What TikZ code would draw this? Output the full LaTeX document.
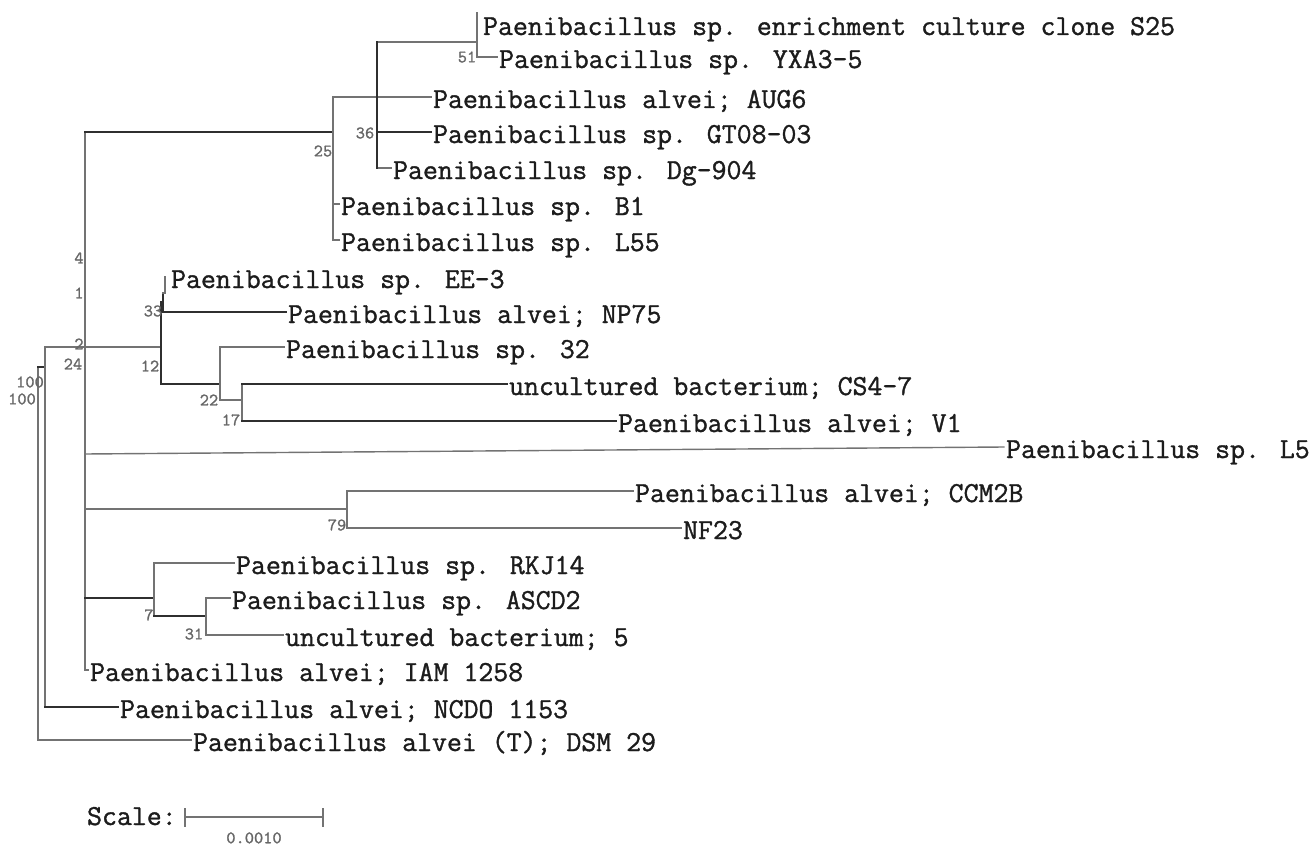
\documentclass[tikz,border=0pt]{standalone}
\usepackage{fontspec}
\usetikzlibrary{positioning}
\newfontfamily\treefont{Latin Modern Mono}[FakeBold=1.2]
\definecolor{branchlight}{HTML}{737373}
\definecolor{branchdark}{HTML}{2F2F2F}
\definecolor{taxonink}{HTML}{1C1C1C}
\definecolor{bootink}{HTML}{666666}
\tikzset{
	treestyle/.style={
		x=0.2mm,
		y=-0.2mm,
		line cap=rect,
		font=\treefont}}

\begin{document}
\begin{tikzpicture}[treestyle,
	taxon/.style={anchor=west, inner xsep=1pt, inner ysep=0pt, text height=4.4mm, text depth=0pt,
		text=taxonink, font=\treefont\fontsize{16.5}{18}\selectfont},
	boot/.style={inner sep=0pt, text=bootink, font=\treefont\fontsize{10}{11}\selectfont},
	thinbr/.style={draw=branchlight, line width=0.8pt},
	thickbr/.style={draw=branchdark, line width=1.4pt},
	]

	\useasboundingbox (0,0) rectangle (1312,847);

	\node[taxon] (s25) at (481,24) {Paenibacillus sp. enrichment culture clone S25};
	\node[taxon] (yxa) at (497,57) {Paenibacillus sp. YXA3-5};
	\node[taxon] (aug) at (431,97) {Paenibacillus alvei; AUG6};
	\node[taxon] (gt) at (431,132) {Paenibacillus sp. GT08-03};
	\node[taxon] (dg) at (391,168) {Paenibacillus sp. Dg-904};
	\node[taxon] (b1) at (339,204) {Paenibacillus sp. B1};
	\node[taxon] (l55) at (339,240) {Paenibacillus sp. L55};
	\node[taxon] (ee3) at (169,277) {Paenibacillus sp. EE-3};
	\node[taxon] (np75) at (286,312) {Paenibacillus alvei; NP75};
	\node[taxon] (sp32) at (284,347) {Paenibacillus sp. 32};
	\node[taxon] (cs47) at (507,384) {uncultured bacterium; CS4-7};
	\node[taxon] (v1) at (616,421) {Paenibacillus alvei; V1};
	\node[taxon] (l5) at (1004,447) {Paenibacillus sp. L5};
	\node[taxon] (ccm) at (633,491) {Paenibacillus alvei; CCM2B};
	\node[taxon] (nf23) at (681,528) {NF23};
	\node[taxon] (rkj) at (234,563) {Paenibacillus sp. RKJ14};
	\node[taxon] (ascd) at (230,598) {Paenibacillus sp. ASCD2};
	\node[taxon] (unc5) at (283,635) {uncultured bacterium; 5};
	\node[taxon] (iam) at (88,670) {Paenibacillus alvei; IAM 1258};
	\node[taxon] (ncdo) at (118,707) {Paenibacillus alvei; NCDO 1153};
	\node[taxon] (dsm) at (191,740) {Paenibacillus alvei (T); DSM 29};

	\coordinate (c100a) at (38,367);
	\coordinate (c100b) at (45,367);
	\coordinate (c24) at (85,347);
	\coordinate (c25) at (333,132);
	\coordinate (c36) at (377,97);
	\coordinate (c51) at (477,42);
	\coordinate (c12) at (161,347);
	\coordinate (c33) at (163,302);
	\coordinate (ee3t) at (165,293);
	\coordinate (c22) at (220,384);
	\coordinate (c17) at (242,400);
	\coordinate (l5r) at (85,454);
	\coordinate (c79) at (347,509);
	\coordinate (c7) at (154,598);
	\coordinate (c31) at (206,616);

	\draw[thinbr] (c100a) -- (c100a |- dsm.west);
	\draw[thinbr] (c100a |- dsm.west) -- (dsm.west);
	\draw[thickbr] (c100a) -- (c100b);
	\draw[thinbr] (c100b |- c24) -- (c100b |- ncdo.west);
	\draw[thinbr] (c100b |- c24) -- (c24);
	\draw[thickbr] (c100b |- ncdo.west) -- (ncdo.west);

	\draw[thinbr] (c24 |- c25) -- (c24 |- iam.west) -- (iam.west);
	\draw[thickbr] (c24 |- c25) -- (c25);
	\draw[thinbr] (c24) -- (c12);
	\draw[thinbr] (l5r) -- (l5.west);
	\draw[thinbr] (c24 |- c79) -- (c79);
	\draw[thickbr] (c24 |- c7) -- (c7);

	\draw[thinbr] (c25 |- c36) -- (c25 |- l55.west) -- (l55.west);
	\draw[thinbr] (c25 |- c36) -- (c36);
	\draw[thinbr] (c25 |- b1.west) -- (b1.west);
	\draw[thinbr] (c36 |- c51) -- (c51);
	\draw[thinbr] (c36) -- (aug.west);
	\draw[thickbr] (c36 |- gt.west) -- (gt.west);
	\draw[thinbr] (c36 |- dg.west) -- (dg.west);
	\draw[thickbr] (c36 |- c51) -- (c36 |- dg.west);
	\draw[thinbr] (c51 |- s25.north) -- (c51 |- yxa.west) -- (yxa.west);

	\draw[thickbr] (c12 |- c33) -- (c12 |- c22);
	\draw[thickbr] (c12 |- c33) -- (c33);
	\draw[thickbr] (c12 |- c22) -- (c22);
	\draw[thickbr] (c33 |- ee3t) -- (c33 |- np75.west) -- (np75.west);
	\draw[thinbr] (c33 |- ee3t) -- (ee3t) -- (ee3t |- ee3.west);
	\draw[thinbr] (c22 |- sp32.west) -- (c22 |- c17) -- (c17);
	\draw[thinbr] (c22 |- sp32.west) -- (sp32.west);
	\draw[thinbr] (c17 |- cs47.west) -- (c17 |- v1.west);
	\draw[thickbr] (c17 |- cs47.west) -- (cs47.west);
	\draw[thickbr] (c17 |- v1.west) -- (v1.west);

	\draw[thinbr] (c79 |- ccm.west) -- (ccm.west);
	\draw[thinbr] (c79 |- ccm.west) -- (c79 |- nf23.west) -- (nf23.west);
	\draw[thinbr] (c7 |- rkj.west) -- (rkj.west);
	\draw[thinbr] (c7 |- rkj.west) -- (c7 |- c31);
	\draw[thickbr] (c7 |- c31) -- (c31);
	\draw[thinbr] (c31 |- ascd.west) -- (ascd.west);
	\draw[thinbr] (c31 |- ascd.west) -- (c31 |- unc5.west) -- (unc5.west);

	\node[boot] (b100a) at (30,382) {100};
	\node[boot] (b100b) at (22,399) {100};
	\node[boot] (b4) at (79,258) {4};
	\node[boot] (b1) at (79,293) {1};
	\node[boot] (b2) at (79,344) {2};
	\node[boot] (b24) at (73,364) {24};
	\node[boot] (b25) at (323,151) {25};
	\node[boot] (b36) at (365,133) {36};
	\node[boot] (b51) at (467,57) {51};
	\node[boot] (b33) at (153,311) {33};
	\node[boot] (b12) at (150,366) {12};
	\node[boot] (b22) at (209,400) {22};
	\node[boot] (b17) at (231,420) {17};
	\node[boot] (b79) at (337,525) {79};
	\node[boot] (b7) at (149,615) {7};
	\node[boot] (b31) at (194,634) {31};

	\node[taxon] (scaletxt) at (85,814) {Scale:};
	\coordinate (sbl) at (185,817);
	\coordinate (sbr) at (323,817);
	\coordinate (sbmid) at (254,817);
	\draw[thinbr] (sbl) -- (sbr);
	\draw[thinbr] (sbl) ++(0,-8) -- ++(0,17);
	\draw[thinbr] (sbr) ++(0,-8) -- ++(0,17);
	\node[boot, below=3mm of sbmid] (sbval) {0.0010};

\end{tikzpicture}
\end{document}
